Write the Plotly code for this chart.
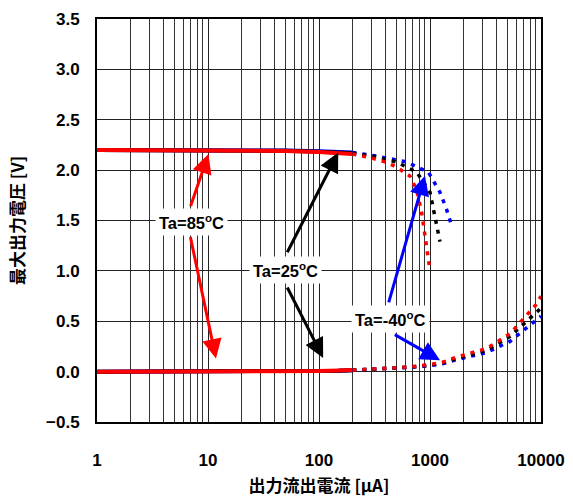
import plotly.graph_objects as go
import math

# ---- data ----
x_solid = [1, 2, 5, 10, 20, 50, 100, 150, 200]
hi_solid_85 = [2.20, 2.20, 2.20, 2.20, 2.197, 2.19, 2.18, 2.17, 2.16]
hi_solid_25 = [2.20, 2.20, 2.20, 2.20, 2.198, 2.192, 2.183, 2.175, 2.168]
hi_solid_m40 = [2.20, 2.20, 2.20, 2.20, 2.199, 2.195, 2.188, 2.18, 2.175]

lo_solid_85 = [0.0, 0.0, 0.0, 0.0, 0.0, 0.002, 0.005, 0.01, 0.015]
lo_solid_25 = [0.0, 0.0, 0.0, 0.0, 0.0, 0.002, 0.005, 0.009, 0.014]
lo_solid_m40 = [0.0, 0.0, 0.0, 0.0, 0.0, 0.002, 0.004, 0.008, 0.013]

x_hi_85 = [200, 300, 407, 500, 660, 760, 841, 935, 1000]
y_hi_85 = [2.16, 2.12, 2.076, 2.03, 1.94, 1.80, 1.58, 1.22, 1.00]
x_hi_25 = [200, 300, 500, 760, 1000, 1110, 1230]
y_hi_25 = [2.168, 2.14, 2.08, 1.98, 1.78, 1.55, 1.29]
x_hi_m40 = [200, 331, 617, 966, 1230, 1410, 1567]
y_hi_m40 = [2.175, 2.14, 2.08, 1.98, 1.78, 1.61, 1.45]

x_lo = [200, 400, 660, 1000, 1320, 1740, 3240, 5260, 9120, 10000]
y_lo_85 = [0.015, 0.03, 0.047, 0.07, 0.096, 0.145, 0.23, 0.376, 0.67, 0.75]
y_lo_25 = [0.014, 0.03, 0.045, 0.065, 0.09, 0.13, 0.21, 0.35, 0.59, 0.63]
y_lo_m40 = [0.013, 0.028, 0.042, 0.06, 0.08, 0.12, 0.19, 0.30, 0.515, 0.55]

x_ticks = [1, 10, 100, 1000, 10000]
x_ticklabels = ["1", "10", "100", "1000", "10000"]

RED = "#ff0000"
BLK = "#000000"
BLU = "#0000ff"
DOT = "4px,6px"

fig = go.Figure()

def add(x, y, color, dash, width):
    fig.add_trace(go.Scatter(x=x, y=y, mode="lines",
                             line=dict(color=color, dash=dash, width=width),
                             showlegend=False, hoverinfo="skip"))

# dotted extensions (blue, black, red order)
add(x_hi_m40, y_hi_m40, BLU, DOT, 3.5)
add(x_hi_25, y_hi_25, BLK, DOT, 3.5)
add(x_hi_85, y_hi_85, RED, DOT, 3.5)
add(x_lo, y_lo_m40, BLU, DOT, 3.5)
add(x_lo, y_lo_25, BLK, DOT, 3.5)
add(x_lo, y_lo_85, RED, DOT, 3.5)
# solid parts
add(x_solid, hi_solid_m40, BLU, "solid", 4)
add(x_solid, hi_solid_25, BLK, "solid", 4)
add(x_solid, hi_solid_85, RED, "solid", 4)
add(x_solid, lo_solid_m40, BLU, "solid", 4)
add(x_solid, lo_solid_25, BLK, "solid", 4)
add(x_solid, lo_solid_85, RED, "solid", 4)

LBL_FONT = dict(family="Liberation Sans, Arial", size=16.5, color="black", weight=700)

def label(x, y, text):
    fig.add_annotation(x=x, y=y, xref="x", yref="y", text=text, showarrow=False,
                       font=LBL_FONT, bgcolor="white", borderpad=3)

def arrow(tx, ty, hx, hy, color):
    fig.add_annotation(x=hx, y=hy, ax=tx, ay=ty, xref="x", yref="y",
                       axref="x", ayref="y", text="", showarrow=True,
                       arrowhead=2, arrowsize=1.3, arrowwidth=3, arrowcolor=color,
                       standoff=0, startstandoff=0)

def L(v):
    return math.log10(v)

arrow(L(6.9), 1.63, L(10.1), 2.16, RED)
arrow(L(6.9), 1.35, L(11.8), 0.13, RED)
arrow(L(51), 1.17, L(149), 2.175, BLK)
arrow(L(51), 0.85, L(109), 0.136, BLK)
arrow(L(421), 0.673, L(901), 1.944, BLU)
arrow(L(467), 0.376, L(1231), 0.112, BLU)

label(L(7.1), 1.485, "Ta=85<sup>o</sup>C")
label(L(50), 1.013, "Ta=25<sup>o</sup>C")
label(L(445), 0.518, "Ta=-40<sup>o</sup>C")

TICK_FONT = dict(family="Liberation Sans, Arial", size=17, color="black", weight=700)
TITLE_FONT = dict(family="Noto Sans CJK JP", size=17, color="black", weight=700)

fig.update_xaxes(type="log", range=[0, 4], automargin=False,
                 tickvals=x_ticks, ticktext=x_ticklabels,
                 tickfont=TICK_FONT, ticks="", ticklabelstandoff=22,
                 showgrid=True, gridcolor="#222222", gridwidth=1,
                 minor=dict(dtick="D1", showgrid=True, gridcolor="#333333", gridwidth=1, ticks=""),
                 showline=True, linecolor="black", linewidth=2, mirror=True,
                 zeroline=False,
                 title=dict(text="出力流出電流 [μA]", font=TITLE_FONT, standoff=16))
fig.update_yaxes(range=[-0.5, 3.5], dtick=0.5, tickformat=".1f", automargin=False,
                 tickfont=TICK_FONT, ticks="", ticklabelstandoff=12,
                 showgrid=True, gridcolor="#222222", gridwidth=1,
                 showline=True, linecolor="black", linewidth=2, mirror=True,
                 zeroline=False,
                 title=dict(text="最大出力電圧 [V]", font=TITLE_FONT, standoff=17))

fig.update_layout(width=573, height=497,
                  margin=dict(l=97, r=32, t=19, b=75),
                  paper_bgcolor="white", plot_bgcolor="white")

fig.write_html("out.html")
